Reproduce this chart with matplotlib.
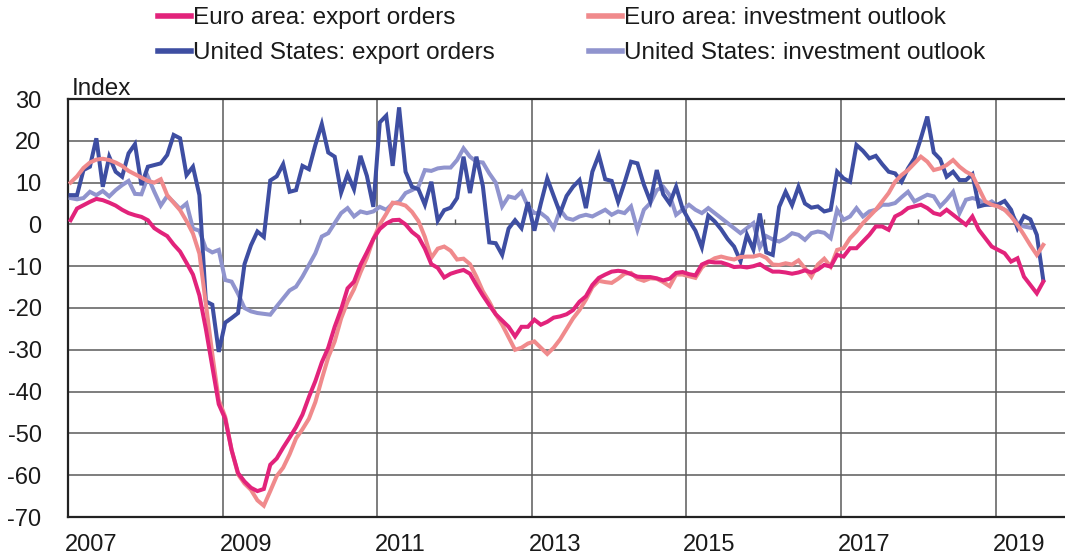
import numpy as np
import matplotlib
matplotlib.use("Agg")
import matplotlib.pyplot as plt

plt.rcParams['font.family'] = ['Liberation Sans', 'DejaVu Sans']
plt.rcParams['axes.unicode_minus'] = False

# ---------------- data (monthly, starting Jan 2007) ----------------
start_year = 2007

ea_export_orders = [
    1.0, 3.8, 4.6, 5.4, 6.1, 5.8, 5.2, 4.5, 3.5, 2.7, 2.2, 1.8,
    1.0, -0.9, -1.9, -2.8, -4.8, -6.5, -9.2, -12.0, -17.0, -25.0, -34.0, -43.0,
    -46.5, -54.0, -59.5, -61.5, -63.0, -63.8, -63.3, -57.5, -56.0, -53.4, -51.0, -48.5,
    -45.5, -41.3, -37.5, -33.0, -29.5, -24.5, -20.3, -15.3, -13.7, -9.7, -6.7, -3.5,
    -1.1, 0.2, 1.0, 1.1, 0.0, -1.8, -3.0, -5.8, -9.5, -10.4, -12.7, -11.8,
    -11.3, -10.9, -11.8, -14.5, -17.0, -19.3, -21.5, -23.0, -24.5, -26.8, -24.5, -24.5,
    -22.8, -24.0, -23.3, -22.3, -22.0, -21.5, -20.5, -18.5, -17.2, -14.5, -12.8, -12.0,
    -11.3, -11.1, -11.3, -11.9, -12.5, -12.6, -12.6, -12.9, -13.4, -13.0, -11.6, -11.4,
    -11.9, -12.2, -9.6, -8.9, -9.1, -9.1, -9.6, -10.2, -10.1, -10.3, -10.0, -9.5,
    -10.5, -11.3, -11.3, -11.5, -11.8, -11.5, -11.0, -11.5, -10.8, -9.7, -10.1, -7.3,
    -7.7, -5.7, -5.7, -4.1, -2.5, -0.5, -0.5, -1.3, 1.9, 2.7, 3.9, 4.3,
    4.7, 3.9, 2.7, 2.3, 3.5, 2.3, 1.1, -0.1, 1.9, -1.3, -3.3, -5.3,
    -6.1, -6.9, -8.9, -8.1, -12.5, -14.5, -16.5, -13.7,
]

ea_investment_outlook = [
    10.0, 11.5, 13.5, 14.8, 15.5, 15.7, 15.4, 14.8, 14.0, 12.8, 12.0, 11.2,
    10.4, 10.0, 10.8, 7.0, 5.2, 3.4, 0.8, -2.2, -7.0, -19.0, -31.0, -42.0,
    -46.0, -54.0, -59.8, -62.0, -63.5, -66.0, -67.3, -63.8, -60.2, -58.2, -55.0, -51.2,
    -49.0, -46.5, -42.5, -37.0, -31.8, -28.0, -22.5, -18.5, -15.5, -11.5, -8.0, -3.5,
    0.0, 2.5, 5.2, 5.0, 4.5, 3.0, 0.8, -3.0, -8.0, -5.8, -5.3, -6.3,
    -8.4, -8.2, -9.5, -12.5, -16.0, -18.5, -21.5, -24.0, -27.0, -30.0, -29.5, -28.5,
    -28.0, -29.5, -31.0, -29.5, -27.5, -25.0, -22.5, -20.5, -18.0, -15.0, -13.5, -13.8,
    -14.0, -13.0, -11.8, -11.6, -13.0, -13.5, -12.9, -13.0, -13.8, -14.8, -12.0, -12.0,
    -12.4, -12.8, -10.3, -9.0, -8.1, -7.7, -8.1, -8.4, -7.8, -7.7, -7.7, -7.3,
    -8.0, -9.6, -9.7, -9.3, -9.6, -8.6, -10.5, -12.5, -9.6, -8.2, -10.1, -6.1,
    -5.7, -3.3, -1.7, 0.3, 1.9, 3.5, 5.5, 7.5, 10.2, 11.8, 13.0, 14.6,
    16.2, 15.0, 13.0, 13.4, 14.2, 15.4, 13.8, 12.6, 11.8, 8.6, 5.5, 4.7,
    4.3, 3.5, 1.9, -0.1, -2.5, -5.0, -7.3, -4.9,
]

us_export_orders = [
    7.0, 7.0, 13.0, 13.8, 20.6, 9.0, 16.2, 12.6, 11.4, 17.0, 19.2, 9.4,
    13.8, 14.2, 14.6, 16.6, 21.4, 20.6, 11.8, 13.8, 7.0, -18.4, -19.2, -30.5,
    -23.5, -22.4, -21.2, -9.5, -5.0, -1.7, -3.0, 10.5, 11.5, 14.4, 7.8, 8.2,
    14.0, 13.2, 19.0, 24.0, 17.2, 16.2, 7.6, 12.0, 8.4, 16.4, 11.6, 4.2,
    24.4, 26.0, 14.0, 28.0, 12.6, 9.0, 8.4, 4.7, 10.2, 0.9, 3.4, 4.0,
    6.3, 16.2, 7.5, 16.2, 9.2, -4.3, -4.5, -7.3, -1.0, 1.0, -0.9, 5.3,
    -1.5, 5.0, 11.0, 6.8, 2.7, 6.8, 9.0, 10.6, 3.9, 12.6, 16.6, 10.8,
    10.4, 5.4, 10.0, 15.0, 14.6, 9.5, 5.5, 13.0, 7.2, 5.0, 9.0, 3.8,
    1.0, -1.5, -5.5, 2.1, 0.7, -1.2, -3.5, -5.3, -8.8, -2.5, -6.0, 2.6,
    -6.7, -7.3, 4.2, 7.8, 4.6, 9.0, 5.0, 4.0, 4.3, 3.1, 3.5, 12.6,
    11.0, 10.2, 19.0, 17.6, 15.8, 16.4, 14.4, 12.6, 12.2, 10.2, 13.4, 15.8,
    20.6, 25.8, 17.2, 15.6, 11.4, 12.6, 10.6, 10.6, 12.0, 4.3, 4.7, 4.7,
    4.8, 5.6, 3.5, -0.9, 2.0, 1.2, -2.5, -13.3,
]

us_investment_outlook = [
    6.3, 6.0, 6.3, 7.8, 7.0, 8.0, 6.7, 8.2, 9.4, 10.4, 7.3, 7.2,
    11.4, 7.8, 4.5, 6.8, 5.3, 3.7, 5.0, -1.0, -1.5, -5.8, -6.7, -6.1,
    -13.3, -13.7, -16.6, -20.0, -20.8, -21.2, -21.4, -21.6, -19.6, -17.7, -15.8, -14.9,
    -12.5, -9.7, -6.9, -2.9, -2.1, 0.3, 2.7, 3.9, 1.9, 3.1, 2.7, 3.1,
    4.2, 3.5, 5.0, 5.4, 7.5, 8.2, 9.0, 13.0, 12.8, 13.4, 13.6, 13.6,
    15.4, 18.2, 16.2, 15.0, 14.8, 12.2, 10.0, 4.3, 6.7, 6.3, 7.8, 4.3,
    2.7, 2.7, 1.5, -0.9, 3.5, 1.5, 1.1, 1.9, 2.3, 1.9, 2.7, 3.5,
    2.3, 3.1, 2.7, 4.3, -1.3, 3.5, 5.1, 8.2, 9.0, 7.0, 2.3, 3.5,
    4.7, 3.5, 2.7, 3.9, 2.7, 1.5, 0.3, -0.9, -2.1, -0.9, 0.3, -5.5,
    -2.8, -3.6, -4.1, -3.3, -2.1, -2.5, -3.7, -2.1, -1.7, -2.0, -3.3, 3.5,
    1.1, 1.9, 3.9, 1.9, 3.1, 3.5, 4.7, 4.7, 5.1, 6.5, 7.8, 5.5,
    6.3, 7.1, 6.7, 4.3, 5.9, 7.8, 2.7, 5.9, 6.3, 5.9, 4.7, 5.5,
    4.3, 3.5, 2.7, 0.3, -0.5, -0.8,
]

series_labels = [
    "Euro area: export orders",
    "United States: export orders",
    "Euro area: investment outlook",
    "United States: investment outlook",
]
series_values = [ea_export_orders, us_export_orders, ea_investment_outlook, us_investment_outlook]
series_colors = ["#E2237B", "#3E4EA2", "#F08A8C", "#9094CE"]
draw_order = [3, 1, 2, 0]  # zorder ranks

year_labels = ["2007", "2009", "2011", "2013", "2015", "2017", "2019"]
y_ticks = [30, 20, 10, 0, -10, -20, -30, -40, -50, -60, -70]

# ---------------- figure ----------------
W, H = 1065, 559
fig = plt.figure(figsize=(W / 100, H / 100), dpi=100)
ax = fig.add_axes([68 / W, 1 - 517 / H, (W - 68) / W, (517 - 99) / H])

px_per_year = 77.3
ax.set_xlim(start_year, start_year + (W - 68) / px_per_year)
ax.set_ylim(-70, 30)

handles = []
for vals, lab, col, z in zip(series_values, series_labels, series_colors, draw_order):
    n = len(vals)
    x = start_year + (np.arange(n) + 0.4) / 12.0
    h, = ax.plot(x, vals, color=col, lw=2.9, label=lab, zorder=3 + z,
                 solid_joinstyle='miter')
    handles.append(h)

# grid & ticks
grid_color = "#5a5a5a"
years = [int(y) for y in year_labels]
ax.set_xticks(years[1:])
ax.set_xticklabels([])
ax.set_xticks([y + 0.3 for y in years], minor=True)
ax.set_xticklabels(year_labels, minor=True)
ax.tick_params(axis='x', which='both', length=0, labelsize=17, pad=12.5, colors='#1a1a1a')
ax.xaxis.grid(True, which='major', color=grid_color, lw=1.1)

ax.set_yticks(y_ticks)
ax.set_yticklabels([str(v) for v in y_ticks])
ax.tick_params(axis='y', length=0, labelsize=17, pad=19, colors='#1a1a1a')
ax.yaxis.grid(True, color=grid_color, lw=1.1)
ax.set_axisbelow(True)

# small ticks on zero line at even years
even_years = list(range(2008, 2019, 2))
ax.vlines(even_years, 0, 1.2, color=grid_color, lw=1.0, zorder=2)

for s in ['top', 'bottom', 'left']:
    ax.spines[s].set_color('#222222')
    ax.spines[s].set_linewidth(1.6)
ax.spines['right'].set_visible(False)

fig.text(72 / W, 1 - 95 / H, "Index", fontsize=17.5, color='#1a1a1a', va='baseline')

leg = fig.legend(handles=handles, labels=series_labels, ncol=2,
                 loc='upper left', bbox_to_anchor=(158 / W, 1 - 7 / H),
                 frameon=False, fontsize=17.5, handlelength=1.35,
                 handletextpad=0.08, columnspacing=3.9, labelspacing=0.55,
                 borderpad=0, borderaxespad=0)
for line in leg.get_lines():
    line.set_linewidth(4)
for t in leg.get_texts():
    t.set_color('#1a1a1a')

fig.savefig("out.png", dpi=100)
